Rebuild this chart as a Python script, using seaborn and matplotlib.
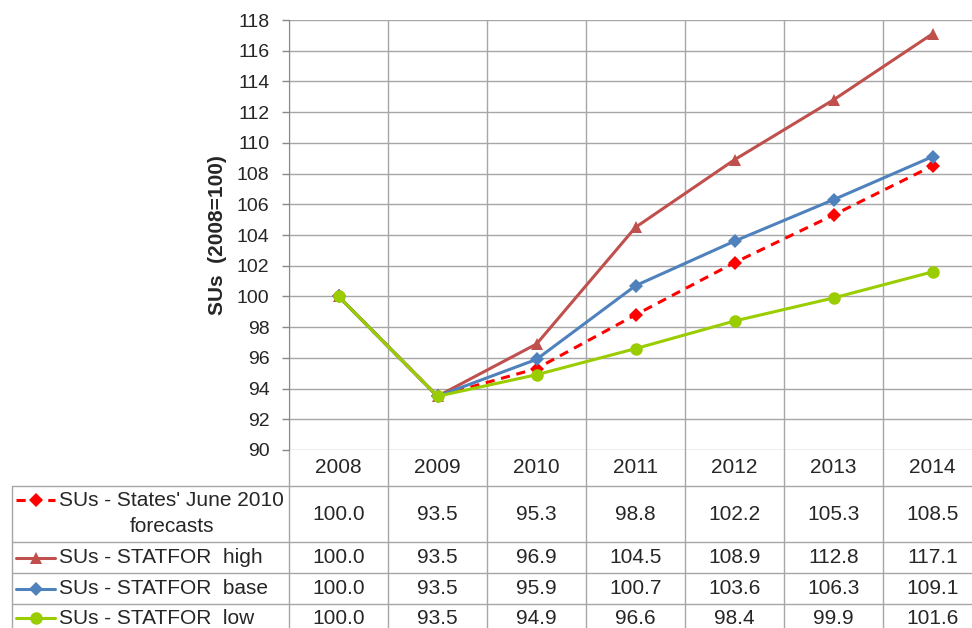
import numpy as np
import seaborn as sns
import matplotlib.pyplot as plt
import matplotlib.transforms as mtransforms
from matplotlib.lines import Line2D

# data
years = ["2008", "2009", "2010", "2011", "2012", "2013", "2014"]
states_june = [100.0, 93.5, 95.3, 98.8, 102.2, 105.3, 108.5]
statfor_high = [100.0, 93.5, 96.9, 104.5, 108.9, 112.8, 117.1]
statfor_base = [100.0, 93.5, 95.9, 100.7, 103.6, 106.3, 109.1]
statfor_low = [100.0, 93.5, 94.9, 96.6, 98.4, 99.9, 101.6]

series_names = ["SUs - States' June 2010\nforecasts", "SUs - STATFOR  high",
                "SUs - STATFOR  base", "SUs - STATFOR  low"]
series_vals = [states_june, statfor_high, statfor_base, statfor_low]
styles = [
    dict(color="#FF0000", ls="--", marker="D", ms=7.5),
    dict(color="#C0504D", ls="-", marker="^", ms=9),
    dict(color="#4F81BD", ls="-", marker="D", ms=7),
    dict(color="#9ACD00", ls="-", marker="o", ms=9),
]

sns.set_style("white")
plt.rcParams["font.family"] = ["Liberation Sans", "DejaVu Sans"]
fs = 15

W, H = 972, 628
fig = plt.figure(figsize=(W / 100, H / 100), dpi=100)

# axes box in pixels: left 289, top 20, bottom 450, columns ~99px wide
left, top, bottom = 289, 20, 450
col_w = 99
ax = fig.add_axes([left / W, 1 - bottom / H, 7 * col_w / W, (bottom - top) / H])

x = np.arange(len(years))
for vals, st in zip(series_vals, styles):
    sns.lineplot(x=x, y=vals, ax=ax, color=st["color"], marker=st["marker"],
                 markersize=st["ms"], markeredgewidth=0, linewidth=2.2)
    if st["ls"] == "--":
        ax.lines[-1].set_dashes((3, 2.2))

ax.set_xlim(-0.5, len(years) - 0.5)
ax.set_ylim(90, 118)
ax.set_yticks(np.arange(90, 119, 2))
ax.set_xticks(x)
ax.set_xticklabels(years)
ax.set_xticks(np.arange(-0.5, len(years), 1), minor=True)
ax.tick_params(axis="x", which="both", length=0, pad=6, labelsize=fs)
ax.tick_params(axis="y", length=5, width=1, color="#888888", labelsize=14, pad=9)
ax.yaxis.set_ticks_position("left")
ax.grid(axis="y", color="#A6A6A6", lw=1)
ax.grid(axis="x", which="minor", color="#A6A6A6", lw=1)
for s in ["top", "right", "bottom"]:
    ax.spines[s].set_visible(False)
ax.spines["left"].set_color("#888888")
ax.set_ylabel("SUs  (2008=100)", fontsize=fs, fontweight="bold", labelpad=7)
ax.set_xlabel("")

# data table under the chart
grid_c = "#A6A6A6"
trans = mtransforms.blended_transform_factory(ax.transData, fig.transFigure)
fy = lambda py: 1 - py / H
row_edges = [486, 542, 573, 604, 635]

# column separators through the header and table
for b in np.arange(-0.5, len(years), 1):
    ax.add_line(Line2D([b, b], [fy(bottom), 0], transform=trans, color=grid_c,
                       lw=1, clip_on=False))
# horizontal rules and left border
for r in row_edges[:-1]:
    fig.add_artist(Line2D([12 / W, 1], [fy(r), fy(r)], color=grid_c, lw=1))
fig.add_artist(Line2D([12 / W, 12 / W], [fy(row_edges[0]), 0], color=grid_c, lw=1))

for i, (name, vals, st) in enumerate(zip(series_names, series_vals, styles)):
    yc = (row_edges[i] + row_edges[i + 1]) / 2
    if i == len(series_vals) - 1:
        yc = 618
    for xi, v in zip(x, vals):
        ax.text(xi, fy(yc), f"{v:.1f}", transform=trans, ha="center",
                va="center", fontsize=fs)
    # legend key
    ky = 500 if i == 0 else yc
    key = Line2D([16 / W, 55 / W], [fy(ky), fy(ky)], color=st["color"], lw=2.2)
    if st["ls"] == "--":
        key.set_dashes((3, 2.2))
    fig.add_artist(key)
    fig.add_artist(Line2D([35.5 / W], [fy(ky)], color=st["color"],
                          marker=st["marker"], markersize=st["ms"],
                          markeredgewidth=0, ls="none"))
    if i == 0:
        line1, line2 = name.split("\n")
        fig.text(59 / W, fy(500), line1, ha="left", va="center", fontsize=fs)
        fig.text(172 / W, fy(527), line2, ha="center", va="center", fontsize=fs)
    else:
        fig.text(59 / W, fy(yc), name, ha="left", va="center", fontsize=fs)

fig.savefig("out.png", dpi=100)
